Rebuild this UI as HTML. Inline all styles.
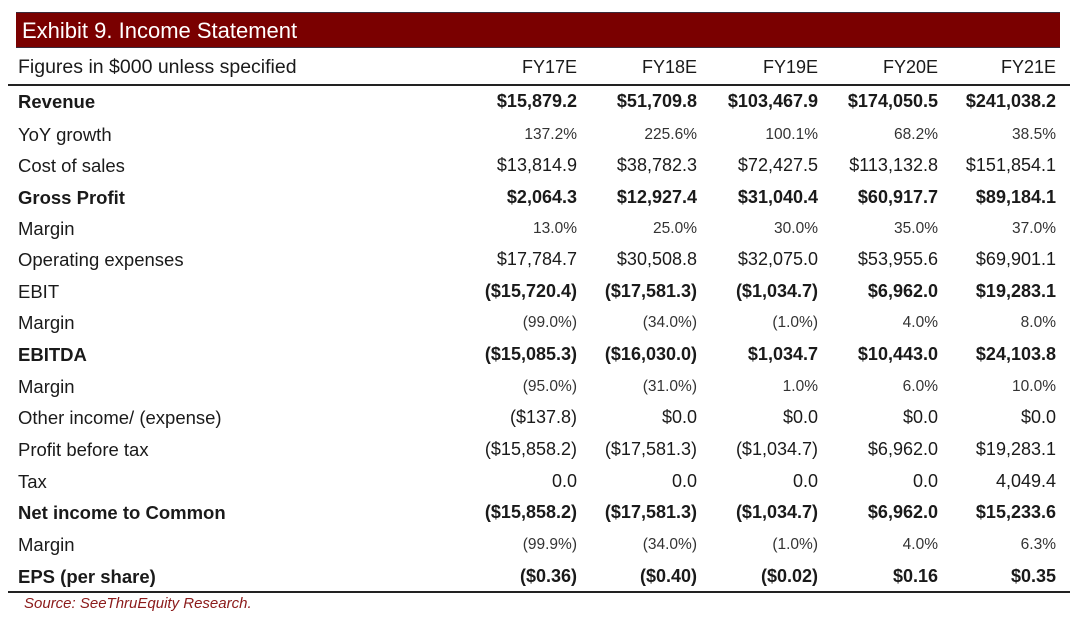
<!DOCTYPE html>
<html><head><meta charset="utf-8"><style>
body{margin:0;width:1080px;height:620px;background:#fff;position:relative;font-family:"Liberation Sans",Arial,sans-serif;color:#1a1a1a;overflow:hidden}
.bar{position:absolute;left:16px;top:12px;width:1044px;height:34px;background:#7a0000;border-top:1px solid #3a2a3a;border-bottom:1px solid #3a2a3a}
.bar span{position:absolute;left:6px;top:5px;color:#fff;font-size:22px}
.r{position:absolute;left:0;width:1080px;height:24px}
.l{position:absolute;left:18px;font-size:18.5px;top:-1px}
.v{position:absolute;font-size:18px;text-align:right;width:140px;top:-1px}
.c1{left:437px}.c2{left:557px}.c3{left:678px}.c4{left:798px}.c5{left:916px}
.b{font-weight:bold}
.p .v{font-size:15.5px;top:1px;color:#333}
.line{position:absolute;left:8px;width:1062px;height:2px;background:#222}
.src{position:absolute;left:24px;top:595px;font-size:15px;font-style:italic;color:#8b1a1a}
</style></head><body>
<div class="bar"><span>Exhibit 9. Income Statement</span></div>
<div class="r" style="top:58px"><div class="l" style="font-size:19.5px;top:-2px">Figures in $000 unless specified</div><div class="v c1">FY17E</div><div class="v c2">FY18E</div><div class="v c3">FY19E</div><div class="v c4">FY20E</div><div class="v c5">FY21E</div></div>
<div class="line" style="top:84px"></div>

<div class="r b" style="top:92px"><div class="l">Revenue</div><div class="v c1">$15,879.2</div><div class="v c2">$51,709.8</div><div class="v c3">$103,467.9</div><div class="v c4">$174,050.5</div><div class="v c5">$241,038.2</div></div>
<div class="r p" style="top:125px"><div class="l">YoY growth</div><div class="v c1">137.2%</div><div class="v c2">225.6%</div><div class="v c3">100.1%</div><div class="v c4">68.2%</div><div class="v c5">38.5%</div></div>
<div class="r" style="top:156px"><div class="l">Cost of sales</div><div class="v c1">$13,814.9</div><div class="v c2">$38,782.3</div><div class="v c3">$72,427.5</div><div class="v c4">$113,132.8</div><div class="v c5">$151,854.1</div></div>
<div class="r b" style="top:188px"><div class="l">Gross Profit</div><div class="v c1">$2,064.3</div><div class="v c2">$12,927.4</div><div class="v c3">$31,040.4</div><div class="v c4">$60,917.7</div><div class="v c5">$89,184.1</div></div>
<div class="r p" style="top:219px"><div class="l">Margin</div><div class="v c1">13.0%</div><div class="v c2">25.0%</div><div class="v c3">30.0%</div><div class="v c4">35.0%</div><div class="v c5">37.0%</div></div>
<div class="r" style="top:250px"><div class="l">Operating expenses</div><div class="v c1">$17,784.7</div><div class="v c2">$30,508.8</div><div class="v c3">$32,075.0</div><div class="v c4">$53,955.6</div><div class="v c5">$69,901.1</div></div>
<div class="r" style="top:282px"><div class="l">EBIT</div><div class="v c1 b">($15,720.4)</div><div class="v c2 b">($17,581.3)</div><div class="v c3 b">($1,034.7)</div><div class="v c4 b">$6,962.0</div><div class="v c5 b">$19,283.1</div></div>
<div class="r p" style="top:313px"><div class="l">Margin</div><div class="v c1">(99.0%)</div><div class="v c2">(34.0%)</div><div class="v c3">(1.0%)</div><div class="v c4">4.0%</div><div class="v c5">8.0%</div></div>
<div class="r b" style="top:345px"><div class="l">EBITDA</div><div class="v c1">($15,085.3)</div><div class="v c2">($16,030.0)</div><div class="v c3">$1,034.7</div><div class="v c4">$10,443.0</div><div class="v c5">$24,103.8</div></div>
<div class="r p" style="top:377px"><div class="l">Margin</div><div class="v c1">(95.0%)</div><div class="v c2">(31.0%)</div><div class="v c3">1.0%</div><div class="v c4">6.0%</div><div class="v c5">10.0%</div></div>
<div class="r" style="top:408px"><div class="l">Other income/ (expense)</div><div class="v c1">($137.8)</div><div class="v c2">$0.0</div><div class="v c3">$0.0</div><div class="v c4">$0.0</div><div class="v c5">$0.0</div></div>
<div class="r" style="top:440px"><div class="l">Profit before tax</div><div class="v c1">($15,858.2)</div><div class="v c2">($17,581.3)</div><div class="v c3">($1,034.7)</div><div class="v c4">$6,962.0</div><div class="v c5">$19,283.1</div></div>
<div class="r" style="top:472px"><div class="l">Tax</div><div class="v c1">0.0</div><div class="v c2">0.0</div><div class="v c3">0.0</div><div class="v c4">0.0</div><div class="v c5">4,049.4</div></div>
<div class="r b" style="top:503px"><div class="l">Net income to Common</div><div class="v c1">($15,858.2)</div><div class="v c2">($17,581.3)</div><div class="v c3">($1,034.7)</div><div class="v c4">$6,962.0</div><div class="v c5">$15,233.6</div></div>
<div class="r p" style="top:535px"><div class="l">Margin</div><div class="v c1">(99.9%)</div><div class="v c2">(34.0%)</div><div class="v c3">(1.0%)</div><div class="v c4">4.0%</div><div class="v c5">6.3%</div></div>
<div class="r b" style="top:567px"><div class="l">EPS (per share)</div><div class="v c1">($0.36)</div><div class="v c2">($0.40)</div><div class="v c3">($0.02)</div><div class="v c4">$0.16</div><div class="v c5">$0.35</div></div>
<div class="line" style="top:591px"></div>
<div class="src">Source: SeeThruEquity Research.</div>
</body></html>
